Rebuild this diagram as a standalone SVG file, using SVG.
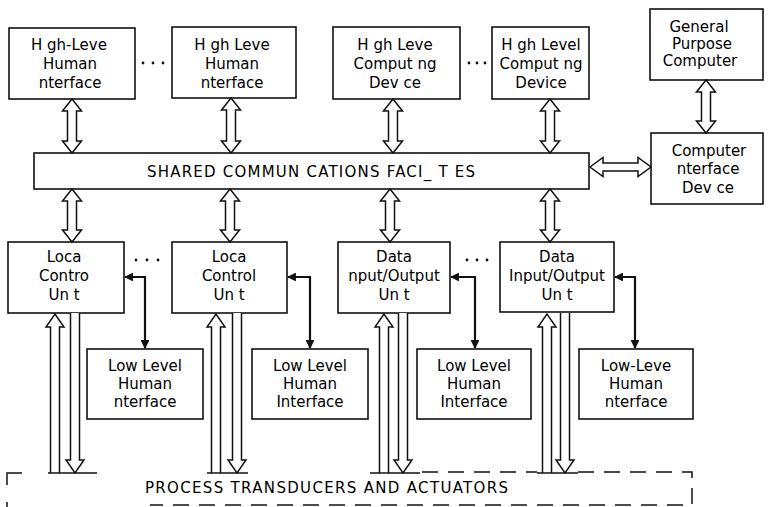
<svg xmlns="http://www.w3.org/2000/svg" width="770" height="507" viewBox="0 0 770 507">
<defs>
<style>
.box{fill:#fff;stroke:#111;stroke-width:1.6}
.t{font-family:"DejaVu Sans",sans-serif;font-size:15px;fill:#000;text-anchor:middle}
.big{font-family:"DejaVu Sans",sans-serif;font-size:15px;fill:#000}
.ha{fill:#fff;stroke:#111;stroke-width:1.5;stroke-linejoin:miter}
.ln{fill:none;stroke:#111;stroke-width:1.5}
.thin{fill:none;stroke:#111;stroke-width:2.2}
.dash{fill:none;stroke:#111;stroke-width:1.5;stroke-dasharray:16 10}
.dot{fill:#111}
</style>
<marker id="ah" viewBox="0 0 10 10" refX="9" refY="5" markerWidth="4" markerHeight="4" orient="auto-start-reverse">
<path d="M0,0 L10,5 L0,10 Z" fill="#111"/>
</marker>
</defs>
<rect width="770" height="507" fill="#fff"/>

<g id="hl1"><rect class="box" x="9" y="28" width="126" height="71"/>
<text class="t" x="69" y="50">H gh-Leve</text><text class="t" x="70" y="69">Human</text><text class="t" x="70" y="88">nterface</text></g>
<g id="hl2"><rect class="box" x="172" y="27" width="124" height="71"/>
<text class="t" x="232" y="50">H gh  Leve</text><text class="t" x="232" y="69">Human</text><text class="t" x="232" y="88">nterface</text></g>
<g id="hc1"><rect class="box" x="333" y="27" width="127" height="72"/>
<text class="t" x="395" y="50">H gh  Leve</text><text class="t" x="395" y="69">Comput ng</text><text class="t" x="395" y="88">Dev ce</text></g>
<g id="hc2"><rect class="box" x="492" y="27" width="97" height="72"/>
<text class="t" x="541" y="50">H gh  Level</text><text class="t" x="541" y="69">Comput ng</text><text class="t" x="541" y="88">Device</text></g>
<g id="gpc"><rect class="box" x="650" y="9" width="113" height="71"/>
<text class="t" x="699" y="32">General</text><text class="t" x="702" y="49">Purpose</text><text class="t" x="700" y="66">Computer</text></g>
<g id="bus"><rect class="box" x="34" y="153" width="555" height="36"/>
<text class="big" x="147" y="177" textLength="328" lengthAdjust="spacing">SHARED COMMUN CATIONS FACI_ T ES</text></g>
<g id="cid"><rect class="box" x="651" y="133" width="112" height="71"/>
<text class="t" x="709" y="156">Computer</text><text class="t" x="708" y="174">nterface</text><text class="t" x="708" y="193">Dev ce</text></g>

<g id="lc1"><rect class="box" x="8" y="242" width="116" height="71"/>
<text class="t" x="64" y="262">Loca</text><text class="t" x="64" y="281">Contro</text><text class="t" x="64" y="300">Un t</text></g>
<g id="lc2"><rect class="box" x="172" y="242" width="115" height="71"/>
<text class="t" x="229" y="262">Loca</text><text class="t" x="229" y="281">Control</text><text class="t" x="229" y="300">Un t</text></g>
<g id="io1"><rect class="box" x="338" y="242" width="112" height="71"/>
<text class="t" x="394" y="262">Data</text><text class="t" x="394" y="281">nput/Output</text><text class="t" x="394" y="300">Un t</text></g>
<g id="io2"><rect class="box" x="500" y="242" width="114" height="70"/>
<text class="t" x="557" y="262">Data</text><text class="t" x="557" y="281">Input/Output</text><text class="t" x="557" y="300">Un t</text></g>

<g id="ll1"><rect class="box" x="87" y="349" width="116" height="70"/>
<text class="t" x="145" y="371">Low  Level</text><text class="t" x="145" y="389">Human</text><text class="t" x="145" y="407">nterface</text></g>
<g id="ll2"><rect class="box" x="252" y="349" width="116" height="70"/>
<text class="t" x="310" y="371">Low  Level</text><text class="t" x="310" y="389">Human</text><text class="t" x="310" y="407">Interface</text></g>
<g id="ll3"><rect class="box" x="417" y="349" width="114" height="70"/>
<text class="t" x="474" y="371">Low  Level</text><text class="t" x="474" y="389">Human</text><text class="t" x="474" y="407">Interface</text></g>
<g id="ll4"><rect class="box" x="579" y="349" width="114" height="70"/>
<text class="t" x="636" y="371">Low-Leve</text><text class="t" x="636" y="389">Human</text><text class="t" x="636" y="407">nterface</text></g>

<g id="process">
<path class="ln" d="M7,485 V473 H22"/>
<path class="ln" d="M7,502 V507"/>
<path class="dash" d="M422,472 H537"/>
<path class="dash" d="M578,472 H692 V505 H150"/>
<text class="big" x="145" y="493" textLength="363" lengthAdjust="spacing">PROCESS TRANSDUCERS AND ACTUATORS</text>
</g>

<g id="dots">
<circle class="dot" cx="143" cy="63" r="1.4"/><circle class="dot" cx="153" cy="63" r="1.4"/><circle class="dot" cx="163" cy="63" r="1.4"/>
<circle class="dot" cx="469" cy="63" r="1.4"/><circle class="dot" cx="477" cy="63" r="1.4"/><circle class="dot" cx="485" cy="63" r="1.4"/>
<circle class="dot" cx="136" cy="260" r="1.4"/><circle class="dot" cx="147" cy="260" r="1.4"/><circle class="dot" cx="158" cy="260" r="1.4"/>
<circle class="dot" cx="467" cy="260" r="1.4"/><circle class="dot" cx="477" cy="260" r="1.4"/><circle class="dot" cx="487" cy="260" r="1.4"/>
</g>

<g id="connectors">
<path class="ha" d="M72,99 L81.5,111 H76.5 V141 H81.5 L72,153 L62.5,141 H67.5 V111 H62.5 Z"/>
<path class="ha" d="M231,98 L240.5,110 H235.5 V141 H240.5 L231,153 L221.5,141 H226.5 V110 H221.5 Z"/>
<path class="ha" d="M393,99 L402.5,111 H397.5 V141 H402.5 L393,153 L383.5,141 H388.5 V111 H383.5 Z"/>
<path class="ha" d="M550,99 L559.5,111 H554.5 V141 H559.5 L550,153 L540.5,141 H545.5 V111 H540.5 Z"/>
<path class="ha" d="M72,189 L81.5,201 H76.5 V230 H81.5 L72,242 L62.5,230 H67.5 V201 H62.5 Z"/>
<path class="ha" d="M230,189 L239.5,201 H234.5 V230 H239.5 L230,242 L220.5,230 H225.5 V201 H220.5 Z"/>
<path class="ha" d="M390,189 L399.5,201 H394.5 V230 H399.5 L390,242 L380.5,230 H385.5 V201 H380.5 Z"/>
<path class="ha" d="M550,189 L559.5,201 H554.5 V230 H559.5 L550,242 L540.5,230 H545.5 V201 H540.5 Z"/>
<path class="ha" d="M706,80 L715.5,92 H710.5 V121 H715.5 L706,133 L696.5,121 H701.5 V92 H696.5 Z"/>
<path class="ha" d="M590,167 L603,157.5 V163 H638 V157.5 L651,167 L638,176.5 V171 H603 V176.5 Z"/>
<path class="ha" d="M50.5,473 V327 H46 L55,314 L64,327 H59.5 V473"/>
<path class="ha" d="M70.5,313 V460 H66 L75,473 L84,460 H79.5 V313"/>
<path class="ln" d="M48,473 H97"/>
<path class="ha" d="M211.5,473 V327 H207 L216,314 L225,327 H220.5 V473"/>
<path class="ha" d="M232.5,313 V460 H228 L237,473 L246,460 H241.5 V313"/>
<path class="ln" d="M207,473 H248"/>
<path class="ha" d="M379.5,473 V327 H375 L384,314 L393,327 H388.5 V473"/>
<path class="ha" d="M398.5,313 V460 H394 L403,473 L412,460 H407.5 V313"/>
<path class="ln" d="M370,473 H420"/>
<path class="ha" d="M542.5,473 V327 H538 L547,314 L556,327 H551.5 V473"/>
<path class="ha" d="M560.5,313 V460 H556 L565,473 L574,460 H569.5 V313"/>
<path class="ln" d="M537,473 H578"/>
<path class="thin" d="M125,277 H145 V348" marker-start="url(#ah)" marker-end="url(#ah)"/>
<path class="thin" d="M288,277 H310 V348" marker-start="url(#ah)" marker-end="url(#ah)"/>
<path class="thin" d="M451,277 H475 V348" marker-start="url(#ah)" marker-end="url(#ah)"/>
<path class="thin" d="M615,277 H635 V348" marker-start="url(#ah)" marker-end="url(#ah)"/>
</g>
</svg>
